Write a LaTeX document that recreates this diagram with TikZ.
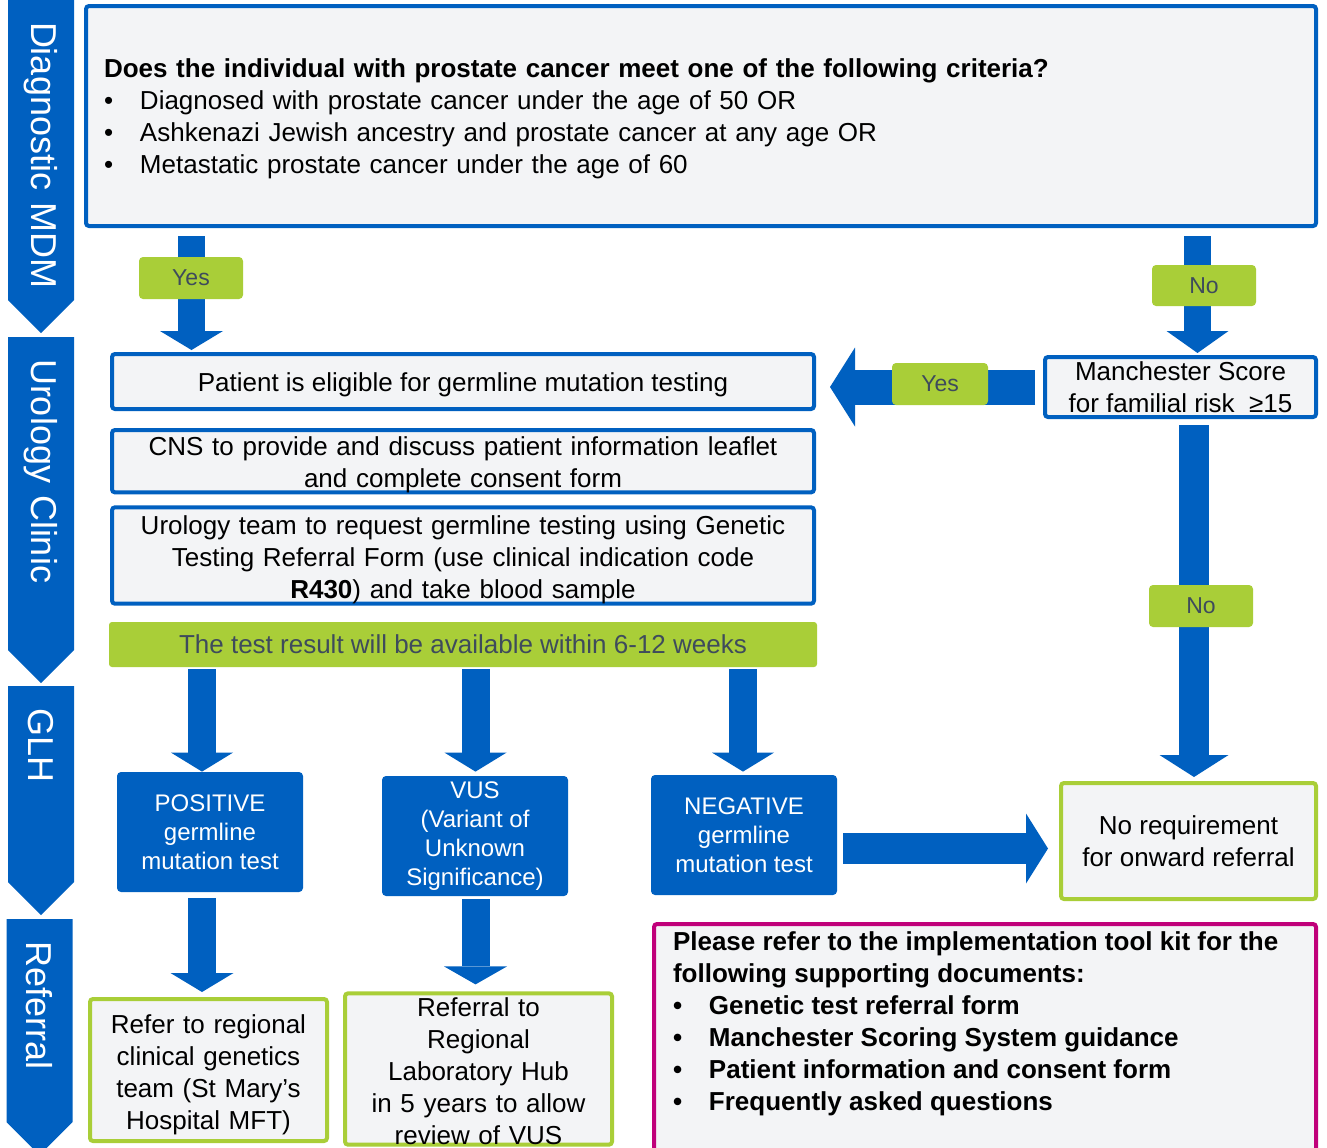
\documentclass[tikz,border=0pt]{standalone}
\usepackage{fontspec}
\setmainfont{Liberation Sans}
\usetikzlibrary{arrows.meta,positioning,shapes.symbols}
\definecolor{ubblue}{RGB}{0,96,192}
\definecolor{ubgreen}{RGB}{169,206,56}
\definecolor{boxgray}{RGB}{243,244,246}
\definecolor{tagtext}{RGB}{62,75,92}
\definecolor{docpink}{RGB}{192,0,122}
\newcommand{\qbul}{\makebox[18pt][l]{\textbullet}}
\newcommand{\dbul}{\makebox[18pt][l]{\textbullet}}
\tikzset{
  band/.style={
    shape=signal,
    signal to=east,
    signal pointer angle=90,
    fill=ubblue,
    text=white,
    rotate=-90,
    minimum height=33pt,
    inner sep=0pt,
    align=left,
    execute at begin node={\hspace*{11pt}},
    font=\fontsize{18}{20}\selectfont
  },
  flowbox/.style={
    draw=ubblue,
    line width=2pt,
    fill=boxgray,
    rounded corners=1.5pt,
    align=center,
    inner sep=0pt,
    font=\fontsize{13}{16}\selectfont
  },
  endbox/.style={
    flowbox,
    draw=ubgreen
  },
  drop/.style={
    execute at begin node={\rule{0pt}{#1}}
  },
  result/.style={
    fill=ubblue,
    text=white,
    rounded corners=2pt,
    align=center,
    inner sep=0pt,
    minimum width=93pt,
    minimum height=60pt,
    font=\fontsize{12}{14.5}\selectfont
  },
  tag/.style={
    fill=ubgreen,
    text=tagtext,
    rounded corners=2pt,
    inner sep=0pt,
    font=\fontsize{11.5}{13}\selectfont
  },
  flow/.style n args={3}{
    draw=ubblue,
    line width=#1,
    -{Triangle[width=#2,length=#3,line width=0pt]}
  }
}
\begin{document}
\begin{tikzpicture}[x=0.5pt,y=-0.5pt]
\useasboundingbox (0,0) rectangle (1327,1147);
\fill[white] (0,0) rectangle (1327,1147);
% stage bands
\node[band,minimum width=166.5pt,text width=150pt] (diag) at (41,150) {Diagnostic MDM};
\node[band,minimum width=173pt,text width=156.5pt] (uro) at (41,493.5) {Urology Clinic};
\node[band,minimum width=114.5pt,text width=98pt] (glh) at (41,784) {GLH};
\node[band,minimum width=118pt,text width=101.5pt] (refb) at (39.5,1020.5) {Referral};
% question
\node[flowbox,drop=12.5pt,minimum width=615pt,minimum height=110pt,text width=597pt,align=left] (q) at (701,116)
  {\textbf{Does the individual with prostate cancer meet one of the following criteria?}\\
   \qbul Diagnosed with prostate cancer under the age of 50 OR\\
   \qbul Ashkenazi Jewish ancestry and prostate cancer at any age OR\\
   \qbul Metastatic prostate cancer under the age of 60};
% urology clinic column
\node[flowbox,drop=12.5pt,minimum width=351pt,minimum height=27.5pt] (pat) at (463,381.5)
  {Patient is eligible for germline mutation testing};
\node[flowbox,drop=12.5pt,minimum width=351pt,minimum height=30.5pt,text width=351pt,below=8.5pt of pat] (cns)
  {CNS to provide and discuss patient information leaflet\\and complete consent form};
\node[flowbox,drop=13.5pt,minimum width=351pt,minimum height=45.5pt,text width=351pt] (req) at (463,555.5)
  {Urology team to request germline testing using Genetic\\Testing Referral Form (use clinical indication code\\\textbf{R430}) and take blood sample};
\node[fill=ubgreen,text=tagtext,rounded corners=1.5pt,minimum width=354pt,minimum height=22.5pt,inner sep=0pt,
  font=\fontsize{13}{16}\selectfont] (res) at (463,644.5) {The test result will be available within 6-12 weeks};
\node[flowbox,minimum width=135.5pt,minimum height=30pt] (ms) at (1180.5,387)
  {Manchester Score\\for familial risk \ ≥15};
% results
\node[result] (pos) at (210,832) {POSITIVE\\germline\\mutation test};
\node[result] (vus) at (475,836) {VUS\\(Variant of\\Unknown\\Significance)};
\node[result] (neg) at (744,835) {NEGATIVE\\germline\\mutation test};
\node[endbox,minimum width=127.5pt,minimum height=58pt] (noref) at (1188.5,841)
  {No requirement\\for onward referral};
% referral
\node[endbox,drop=14.5pt,minimum width=118.5pt,minimum height=71pt,text width=118.5pt] (gen) at (208.5,1070)
  {Refer to regional\\clinical genetics\\team (St Mary’s\\Hospital MFT)};
\node[endbox,drop=11.5pt,minimum width=133.5pt,minimum height=74pt,text width=133.5pt] (lab) at (478.5,1069)
  {Referral to\\Regional\\Laboratory Hub\\in 5 years to allow\\review of VUS};
\node[flowbox,draw=docpink,anchor=north,minimum width=331pt,inner ysep=4pt] (docs) at (985,922)
  {\parbox[t][106pt][t]{312pt}{\fontsize{13}{16}\selectfont\bfseries
   Please refer to the implementation tool kit for the\\
   following supporting documents:\\
   \dbul Genetic test referral form\\
   \dbul Manchester Scoring System guidance\\
   \dbul Patient information and consent form\\
   \dbul Frequently asked questions}};
% connectors
\coordinate (xa) at (191.5,0);
\coordinate (xb) at (1197.5,0);
\coordinate (xc) at (1194,0);
\coordinate (xd) at (202,0);
\coordinate (xe) at (475.5,0);
\coordinate (xf) at (743,0);
\draw[flow={13.5pt}{31.5pt}{9.5pt},shorten <=4pt,shorten >=1pt] (q.south -| xa) -- (pat.north -| xa);
\draw[flow={13.5pt}{31pt}{11pt},shorten <=4pt,shorten >=1pt] (q.south -| xb) -- (ms.north -| xb);
\draw[flow={17.5pt}{39.5pt}{12.5pt},shorten <=4pt,shorten >=7pt] (ms.west) -- (pat.east |- ms.west);
\draw[flow={15pt}{34.5pt}{11pt},shorten <=3pt,shorten >=2pt] (ms.south -| xc) -- (noref.north -| xc);
\draw[flow={14pt}{31pt}{9.5pt},shorten <=1pt] (res.south -| xd) -- (pos.north -| xd);
\draw[flow={14pt}{31pt}{9.5pt},shorten <=1pt,shorten >=2pt] (res.south -| xe) -- (vus.north -| xe);
\draw[flow={14pt}{31pt}{9.5pt},shorten <=1pt,shorten >=1.5pt] (res.south -| xf) -- (neg.north -| xf);
\draw[flow={14pt}{31.5pt}{9.5pt},shorten <=3pt,shorten >=2.5pt] (pos.south -| xd) -- (gen.north -| xd);
\draw[flow={14pt}{31.5pt}{9pt},shorten <=1.5pt,shorten >=3.5pt] (vus.south -| xe) -- (lab.north -| xe);
\draw[flow={15.5pt}{35pt}{11pt},shorten <=3pt,shorten >=5.5pt] (neg.east |- 0,848.5) -- (noref.west |- 0,848.5);
% decision tags
\node[tag,minimum width=52pt,minimum height=21pt] (yes1) at (191,278) {Yes};
\node[tag,minimum width=52pt,minimum height=20.5pt] (no1) at (1204,285.5) {No};
\node[tag,minimum width=48pt,minimum height=21pt] (yes2) at (940,384) {Yes};
\node[tag,minimum width=52pt,minimum height=21pt] (no2) at (1201,606) {No};
\end{tikzpicture}
\end{document}
